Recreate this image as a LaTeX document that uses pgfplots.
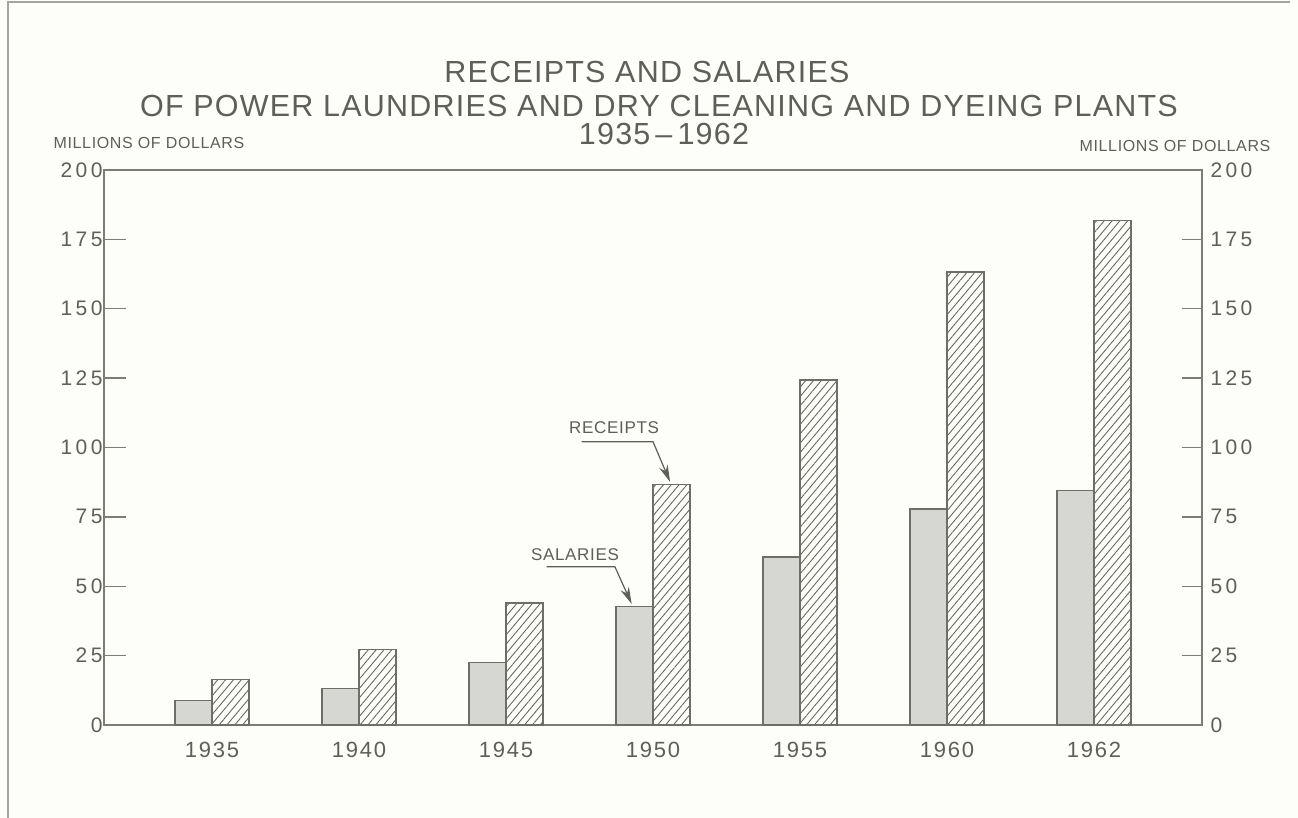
\documentclass[border=0pt]{standalone}
\usepackage{fontspec}
\setmainfont{Liberation Sans}
\newfontfamily\tickfont{Liberation Sans}[LetterSpace=16]
\newfontfamily\titlefont{Liberation Sans}[LetterSpace=4]
\newfontfamily\yearfont{Liberation Sans}[LetterSpace=8]
\usepackage{pgfplots}
\pgfplotsset{compat=1.18}
\usetikzlibrary{patterns.meta,arrows.meta}
\definecolor{bg}{RGB}{253,253,249}
\definecolor{ink}{RGB}{95,95,90}
\definecolor{axcol}{RGB}{125,125,120}
\definecolor{barline}{RGB}{110,110,105}
\definecolor{salfill}{RGB}{214,215,210}
\definecolor{hatch}{RGB}{105,105,100}
\begin{document}
\begin{tikzpicture}[x=1pt,y=1pt]
\fill[bg] (0,0) rectangle (1298,818);
\draw[axcol!70, line width=1.5pt] (8,0) -- (8,816) -- (1290,816);
\node[ink, font=\titlefont\fontsize{30.5}{34}\selectfont] at (647,746) {RECEIPTS AND SALARIES};
\node[ink, font=\titlefont\fontsize{30.5}{34}\selectfont] at (659,712) {OF POWER LAUNDRIES AND DRY CLEANING AND DYEING PLANTS};
\node[ink, font=\titlefont\fontsize{30.5}{34}\selectfont] at (664,684) {1935\,–\,1962};
\node[ink, font=\titlefont\fontsize{16}{18}\selectfont] at (149,675) {MILLIONS OF DOLLARS};
\node[ink, font=\titlefont\fontsize{16}{18}\selectfont] at (1175,672) {MILLIONS OF DOLLARS};
\begin{axis}[
  at={(104pt,93pt)}, anchor=south west, scale only axis,
  width=1098pt, height=555pt,
  xmin=-0.735, xmax=6.735, ymin=0, ymax=200,
  axis line style={axcol, line width=1.6pt},
  ybar=0pt, bar width=0.252,
  xtick={0,...,6}, xticklabels={1935,1940,1945,1950,1955,1960,1962},
  x tick style={draw=none},
  xticklabel style={font=\yearfont\fontsize{22}{23}\selectfont, text=ink, anchor=base, yshift=-33pt},
  ytick={0,25,...,200}, yticklabels={0,25,50,75,100,125,150,175,200},
  ytick pos=left, tick align=inside, major tick length=22pt,
  y tick style={axcol, line width=1.4pt},
  yticklabel style={font={\tickfont\fontsize{21}{22}\selectfont}, text=ink, xshift=2pt},
  clip=false,
]
\addplot[draw=barline, line width=1.4pt, fill=salfill] coordinates {(0,8.8) (1,13.2) (2,22.5) (3,42.6) (4,60.6) (5,77.9) (6,84.4)};
\addplot[draw=barline, line width=1.4pt, pattern={Lines[angle=50,distance=6pt,line width=0.9pt]}, pattern color=hatch] coordinates {(0,16.5) (1,27.1) (2,43.9) (3,86.7) (4,124.3) (5,163.3) (6,181.9)};
\node[ink, font=\titlefont\fontsize{17}{18}\selectfont] at (axis cs:2.735,107) {RECEIPTS};
\draw[ink, line width=1.2pt, -{Stealth[length=17pt,width=9pt]}] (axis cs:2.514,102.1) -- (axis cs:3.0,102.1) -- (axis cs:3.116,87.6);
\node[ink, font=\titlefont\fontsize{17}{18}\selectfont] at (axis cs:2.469,61.4) {SALARIES};
\draw[ink, line width=1.2pt, -{Stealth[length=17pt,width=9pt]}] (axis cs:2.277,57.0) -- (axis cs:2.741,57.0) -- (axis cs:2.855,43.6);
\end{axis}
\begin{axis}[
  at={(104pt,93pt)}, anchor=south west, scale only axis,
  width=1098pt, height=555pt,
  xmin=-0.735, xmax=6.735, ymin=0, ymax=200,
  axis x line=none, axis y line*=right,
  axis line style={axcol, line width=1.6pt},
  ytick={0,25,...,200}, yticklabels={0,25,50,75,100,125,150,175,200},
  tick align=inside, major tick length=20pt,
  y tick style={axcol, line width=1.4pt},
  yticklabel style={font={\tickfont\fontsize{21}{22}\selectfont}, text=ink, xshift=5pt},
]
\end{axis}
\pgfresetboundingbox
\path (0,0) rectangle (1298,818);
\end{tikzpicture}
\end{document}
